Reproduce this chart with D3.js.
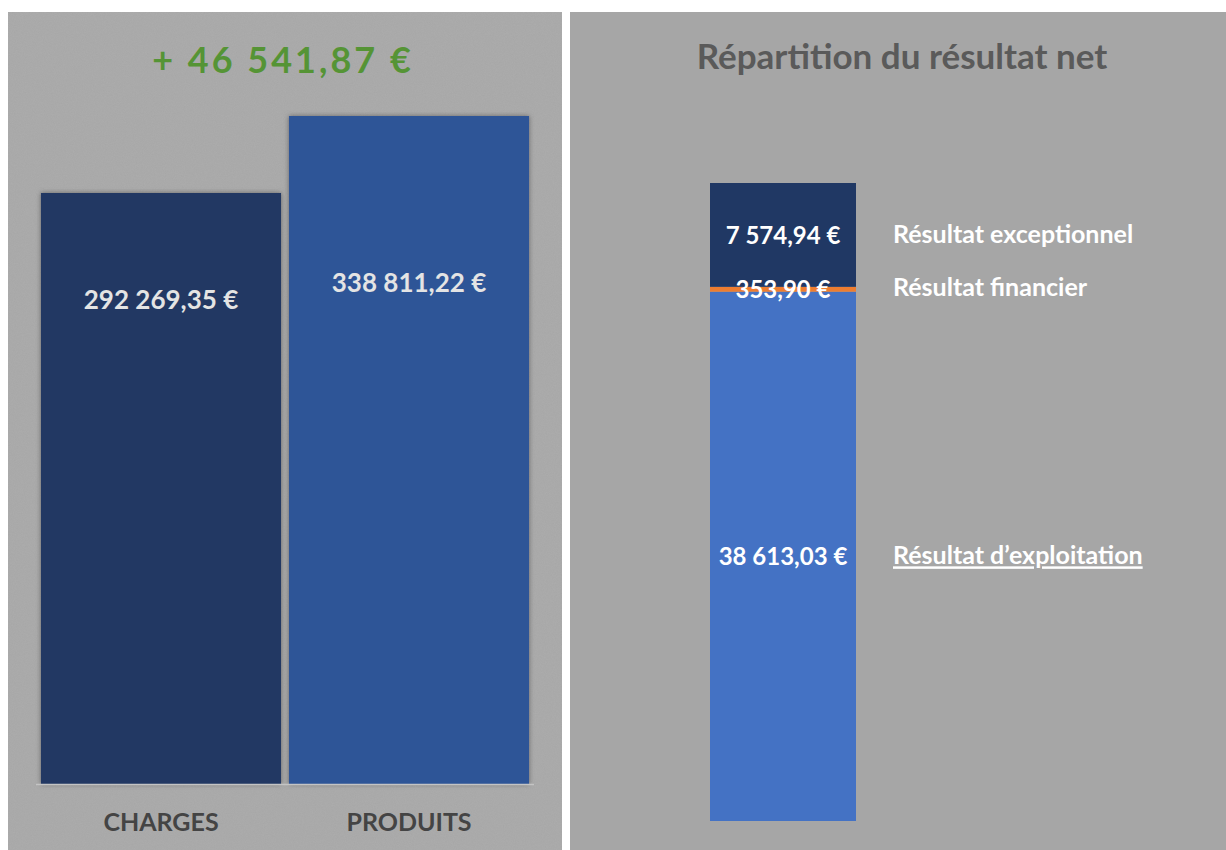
<!DOCTYPE html>
<html>
<head>
<meta charset="utf-8">
<script src="https://cdn.jsdelivr.net/npm/d3@7"></script>
<style>
  body { margin: 0; background: #fff; }
  text { font-family: Lato, "Open Sans", sans-serif; font-weight: bold; }
</style>
</head>
<body>
<script>
// Left chart: charges vs produits
var categories = ["CHARGES", "PRODUITS"];
var totals = [292269.35, 338811.22];
var resultTitle = "+ 46 541,87 €";

// Right chart: stacked breakdown of the net result
var partKeys = ["exploitation", "financier", "exceptionnel"];
var partLabels = ["Résultat d’exploitation", "Résultat financier", "Résultat exceptionnel"];
var partValues = [38613.03, 353.90, 7574.94];
var rightTitle = "Répartition du résultat net";

var fmt = function(v) {
    var s = v.toFixed(2).split(".");
    return s[0].replace(/\B(?=(\d{3})+(?!\d))/g, " ") + "," + s[1] + " €";
};

var svg = d3.select("body")
.append("svg")
    .attr("width", 1226)
    .attr("height", 850);

var defs = svg.append("defs");
var noise = defs.append("filter").attr("id", "grain")
    .attr("x", 0).attr("y", 0).attr("width", "100%").attr("height", "100%");
noise.append("feTurbulence").attr("type", "fractalNoise")
    .attr("baseFrequency", 0.9).attr("numOctaves", 2).attr("seed", 3);
noise.append("feColorMatrix").attr("type", "matrix")
    .attr("values", "0 0 0 0 0.5  0 0 0 0 0.5  0 0 0 0 0.5  0 0 0 0.3 0");
var shadow = defs.append("filter").attr("id", "shadow")
    .attr("x", "-5%").attr("y", "-5%").attr("width", "110%").attr("height", "110%");
shadow.append("feDropShadow").attr("dx", 0).attr("dy", 0)
    .attr("stdDeviation", 2.5).attr("flood-color", "#555").attr("flood-opacity", 0.8);

// panels
svg.append("rect").attr("x", 8).attr("y", 12).attr("width", 554).attr("height", 838)
    .attr("fill", "#a7a7a7");
svg.append("rect").attr("x", 8).attr("y", 12).attr("width", 554).attr("height", 838)
    .attr("filter", "url(#grain)").attr("opacity", 0.9);
svg.append("rect").attr("x", 570).attr("y", 12).attr("width", 656).attr("height", 838)
    .attr("fill", "#a6a6a6");

// ---- left chart ----
var xLeft = d3.scaleBand().domain(categories).range([37, 533])
    .paddingInner(0.032).paddingOuter(0.016);
var yLeft = d3.scaleLinear().domain([-65000, 338811.22]).range([784, 116]);
var leftColors = ["#203864", "#2f5597"];
var labelShift = [107, 167];

svg.append("text")
    .attr("x", 283).attr("y", 73)
    .attr("text-anchor", "middle")
    .attr("fill", "#559435")
    .style("font-size", "36px")
    .style("letter-spacing", "3px")
    .text(resultTitle);

svg.selectAll(".bar-left")
    .data(categories)
    .enter().append("rect")
    .attr("class", "bar-left")
    .attr("x", function(d) { return xLeft(d); })
    .attr("y", function(d, i) { return yLeft(totals[i]); })
    .attr("width", xLeft.bandwidth())
    .attr("height", function(d, i) { return yLeft(yLeft.domain()[0]) - yLeft(totals[i]); })
    .attr("fill", function(d, i) { return leftColors[i]; })
    .attr("filter", "url(#shadow)");

svg.append("line")
    .attr("x1", 36).attr("x2", 534)
    .attr("y1", yLeft(-65000) + 0.5).attr("y2", yLeft(-65000) + 0.5)
    .attr("stroke", "#c4c4c4").attr("stroke-width", 1.5);

svg.selectAll(".label-left")
    .data(categories)
    .enter().append("text")
    .attr("class", "label-left")
    .attr("x", function(d) { return xLeft(d) + xLeft.bandwidth() / 2; })
    .attr("y", function(d, i) { return yLeft(totals[i]) + labelShift[i] + 9; })
    .attr("text-anchor", "middle")
    .attr("fill", "#e4e4e4")
    .style("font-size", "26px")
    .text(function(d, i) { return fmt(totals[i]); });

svg.selectAll(".cat-left")
    .data(categories)
    .enter().append("text")
    .attr("class", "cat-left")
    .attr("x", function(d) { return xLeft(d) + xLeft.bandwidth() / 2; })
    .attr("y", 831)
    .attr("text-anchor", "middle")
    .attr("fill", "#444")
    .style("font-size", "25px")
    .text(function(d) { return d; });

// ---- right chart ----
svg.append("text")
    .attr("x", 902).attr("y", 69)
    .attr("text-anchor", "middle")
    .attr("fill", "#5a5a5a")
    .style("font-size", "35px")
    .text(rightTitle);

var row = {};
partKeys.forEach(function(k, i) { row[k] = partValues[i]; });
var series = d3.stack().keys(partKeys)([row]);

var xRight = d3.scaleBand().domain(["net"]).range([710, 856]).padding(0);
var yRight = d3.scaleLinear().domain([0, d3.sum(partValues)]).range([821, 183]);
var rightColors = ["#4472c4", "#ed7d31", "#203864"];

svg.selectAll(".seg")
    .data(series)
    .enter().append("rect")
    .attr("class", "seg")
    .attr("x", xRight("net"))
    .attr("width", xRight.bandwidth())
    .attr("y", function(d) { return yRight(d[0][1]); })
    .attr("height", function(d) { return yRight(d[0][0]) - yRight(d[0][1]); })
    .attr("fill", function(d, i) { return rightColors[i]; });

svg.selectAll(".seg-label")
    .data(series)
    .enter().append("text")
    .attr("class", "seg-label")
    .attr("x", xRight("net") + xRight.bandwidth() / 2)
    .attr("y", function(d) { return yRight((d[0][0] + d[0][1]) / 2) + 9; })
    .attr("text-anchor", "middle")
    .attr("fill", "#fff")
    .style("font-size", "24px")
    .text(function(d, i) { return fmt(partValues[i]); });

svg.selectAll(".seg-name")
    .data(series)
    .enter().append("text")
    .attr("class", "seg-name")
    .attr("x", 893)
    .attr("y", function(d, i) {
        return i === 1 ? yRight(d[0][1]) + 9 : yRight((d[0][0] + d[0][1]) / 2) + 8;
    })
    .attr("fill", "#fff")
    .style("font-size", "25px")
    .style("text-decoration", function(d, i) { return i === 0 ? "underline" : null; })
    .text(function(d, i) { return partLabels[i]; });
</script>
</body>
</html>
